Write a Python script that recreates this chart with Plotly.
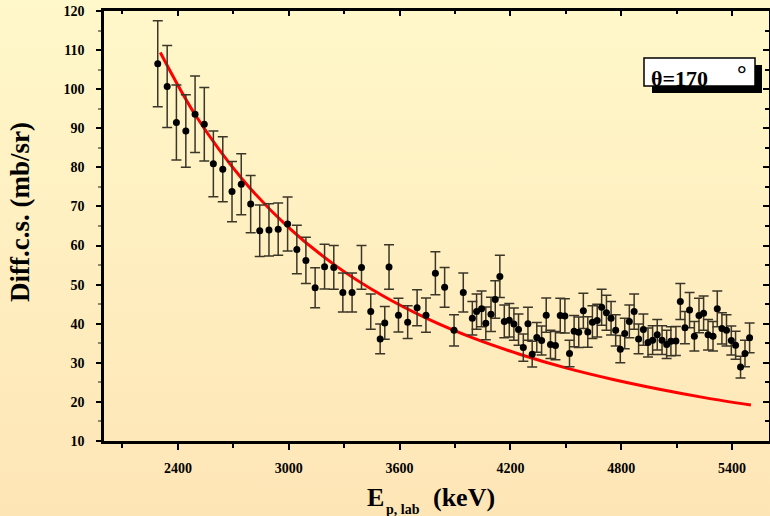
import base64
import plotly.graph_objects as go

# Measured differential cross sections, theta = 170 deg
energy_kev = [
    2291, 2342, 2392, 2443, 2493, 2543, 2592, 2643, 2693, 2743,
    2794, 2843, 2893, 2943, 2994, 3044, 3093, 3143, 3194, 3244,
    3293, 3343, 3394, 3444, 3495, 3520, 3543, 3594, 3644, 3695,
    3743, 3794, 3844, 3895, 3945, 3994, 4017, 4044, 4067, 4095,
    4118, 4143, 4167, 4194, 4219, 4244, 4270, 4295, 4318, 4343,
    4369, 4394, 4417, 4444, 4470, 4495, 4520, 4545, 4570, 4595,
    4619, 4644, 4670, 4694, 4720, 4745, 4770, 4795, 4819, 4844,
    4870, 4894, 4920, 4945, 4970, 4995, 5021, 5046, 5069, 5096,
    5120, 5145, 5170, 5196, 5221, 5246, 5270, 5297, 5320, 5345,
    5370, 5396, 5419, 5446, 5470, 5495,
]
cross_section = [
    106.5, 100.7, 91.5, 89.3, 93.6, 91.0, 80.9, 79.5, 73.8, 75.7,
    70.6, 63.8, 64.0, 64.2, 65.5, 59.0, 56.2, 49.2, 54.6, 54.4,
    48.0, 48.0, 54.4, 43.1, 36.1, 40.2, 54.5, 42.2, 40.4, 44.1,
    42.2, 52.9, 49.3, 38.3, 48.0, 41.4, 43.1, 43.8, 40.1, 42.4,
    46.2, 52.1, 40.6, 40.9, 39.9, 38.5, 33.9, 40.0, 32.2, 36.5,
    35.7, 42.2, 34.7, 34.4, 42.1, 42.0, 32.4, 38.1, 37.8, 43.3,
    37.9, 40.4, 40.8, 44.2, 42.8, 41.4, 38.3, 33.5, 37.5, 40.6,
    43.1, 36.1, 38.5, 35.2, 35.8, 37.2, 35.8, 34.7, 35.5, 35.6,
    45.7, 39.0, 43.5, 36.8, 42.1, 42.7, 37.2, 36.8, 43.8, 38.8,
    38.3, 35.7, 34.5, 28.9, 32.4, 36.4,
]
cross_section_err = [
    11.0, 10.5, 9.6, 9.3, 9.8, 9.4, 8.4, 8.3, 7.7, 7.8,
    7.3, 6.6, 6.7, 6.7, 6.9, 6.2, 5.9, 5.1, 5.7, 5.6,
    5.0, 5.0, 5.6, 4.5, 3.8, 4.2, 5.7, 4.3, 4.2, 4.6,
    4.4, 5.5, 5.1, 4.0, 5.0, 4.3, 4.5, 4.6, 4.2, 4.4,
    4.8, 5.4, 4.2, 4.3, 4.1, 4.0, 3.5, 4.2, 3.3, 3.8,
    3.7, 4.4, 3.6, 3.6, 4.4, 4.4, 3.4, 4.0, 3.9, 4.5,
    3.9, 4.2, 4.2, 4.6, 4.5, 4.3, 4.0, 3.5, 3.9, 4.2,
    4.5, 3.8, 4.0, 3.7, 3.7, 3.9, 3.7, 3.6, 3.7, 3.7,
    4.6, 4.1, 4.5, 3.8, 4.4, 4.4, 3.9, 3.8, 4.6, 4.0,
    4.0, 3.7, 3.6, 2.8, 3.4, 3.8,
]

# Rutherford curve samples
ruth_energy = [2305, 2500, 2750, 3000, 3250, 3500, 3750, 4000,
               4250, 4500, 4750, 5000, 5250, 5502]
ruth_xs = [109.4, 93.0, 76.9, 64.6, 55.0, 47.4, 41.3, 36.3,
           32.2, 28.7, 25.8, 23.3, 21.1, 19.2]

x_ticks = [2400, 3000, 3600, 4200, 4800, 5400]
y_ticks = [10, 20, 30, 40, 50, 60, 70, 80, 90, 100, 110, 120]

W, H = 770, 516
ML, MR, MT, MB = 104, 1, 11, 75
PW, PH = W - ML - MR, H - MT - MB
FONT = "Liberation Serif"


def px(x):
    return (x - ML) / PW


def py(y):
    return (H - MB - y) / PH


bg_svg = (
    '<svg xmlns="http://www.w3.org/2000/svg" width="770" height="516">'
    '<defs><linearGradient id="g" x1="0" y1="0" x2="0" y2="1">'
    '<stop offset="0" stop-color="#FFF8CA"/>'
    '<stop offset="1" stop-color="#FEE5B6"/>'
    '</linearGradient></defs>'
    '<rect width="770" height="516" fill="url(#g)"/></svg>'
)
bg_src = "data:image/svg+xml;base64," + base64.b64encode(bg_svg.encode()).decode()

fig = go.Figure()

fig.add_trace(go.Scatter(
    x=ruth_energy, y=ruth_xs, mode="lines", line_shape="spline",
    line=dict(color="#FF0000", width=3), hoverinfo="skip",
))
fig.add_trace(go.Scatter(
    x=energy_kev, y=cross_section, mode="markers",
    marker=dict(color="black", size=7),
    error_y=dict(type="data", array=cross_section_err, visible=True,
                 color="#3b3628", thickness=1.5, width=5),
))
# invisible trace that activates the mirrored top/right axes
fig.add_trace(go.Scatter(x=[2000], y=[10], xaxis="x2", yaxis="y2",
                         mode="markers", marker=dict(opacity=0),
                         hoverinfo="skip"))

tick_font = dict(family=FONT, size=14, color="black", weight="bold")

fig.update_layout(
    width=W, height=H,
    margin=dict(l=ML, r=MR, t=MT, b=MB),
    paper_bgcolor="#FEEFC2",
    plot_bgcolor="rgba(0,0,0,0)",
    showlegend=False,
    images=[dict(source=bg_src, xref="paper", yref="paper",
                 x=px(0), y=py(0), sizex=W / PW, sizey=H / PH,
                 xanchor="left", yanchor="top", sizing="stretch",
                 layer="below")],
    xaxis=dict(range=[2000, 5600], tickvals=x_ticks,
               ticktext=[str(v) for v in x_ticks],
               ticks="outside", ticklen=6, tickwidth=2, tickcolor="black",
               minor=dict(tickvals=[2100, 2700, 3300, 3900, 4500, 5100],
                          ticks="outside", ticklen=4, tickwidth=2,
                          tickcolor="black"),
               showline=True, linecolor="black", linewidth=2.5,
               showgrid=False, zeroline=False, tickfont=tick_font,
               ticklabelstandoff=6),
    yaxis=dict(range=[10, 120], tickvals=y_ticks,
               ticks="outside", ticklen=5, tickwidth=2, tickcolor="black",
               minor=dict(dtick=5, ticks="outside", ticklen=3, tickwidth=1.5,
                          tickcolor="#8a8470"),
               showline=True, linecolor="black", linewidth=2.5,
               showgrid=False, zeroline=False, tickfont=tick_font,
               ticklabelstandoff=9),
    xaxis2=dict(range=[2000, 5600], overlaying="x", side="top",
                tickvals=x_ticks, ticks="inside", ticklen=5, tickwidth=2,
                tickcolor="black", showticklabels=False,
                minor=dict(tickvals=[2100, 2700, 3300, 3900, 4500, 5100],
                           ticks="inside", ticklen=3, tickwidth=2,
                           tickcolor="black"),
                showline=True, linecolor="black", linewidth=2.5,
                showgrid=False, zeroline=False),
    yaxis2=dict(range=[10, 120], overlaying="y", side="right",
                tickvals=y_ticks, ticks="inside", ticklen=6, tickwidth=2,
                tickcolor="black", showticklabels=False,
                minor=dict(dtick=5, ticks="inside", ticklen=4, tickwidth=1.5,
                           tickcolor="black"),
                showline=True, linecolor="black", linewidth=2.5,
                showgrid=False, zeroline=False),
    shapes=[
        dict(type="rect", xref="paper", yref="paper",
             x0=px(652), x1=px(762), y0=py(65), y1=py(93),
             fillcolor="black", line=dict(width=0)),
        dict(type="rect", xref="paper", yref="paper",
             x0=px(644), x1=px(755), y0=py(58), y1=py(86),
             fillcolor="white", line=dict(color="black", width=1.5)),
    ],
)

ann_font_big = dict(family=FONT, size=26, color="black", weight="bold")
annotations = [
    dict(text="Diff.c.s. (mb/sr)", textangle=-90, x=px(20), y=py(212),
         font=dict(family=FONT, size=27, color="black", weight="bold")),
    dict(text="E", x=px(375), y=py(497), font=ann_font_big),
    dict(text="p, lab", x=px(403), y=py(509),
         font=dict(family=FONT, size=14, color="black", weight="bold")),
    dict(text="(keV)", x=px(464), y=py(497), font=ann_font_big),
    dict(text="θ=170", x=px(679), y=py(78),
         font=dict(family=FONT, size=22, color="black", weight="bold")),
    dict(text="°", x=px(742), y=py(74),
         font=dict(family=FONT, size=24, color="black", weight="bold")),
]
for a in annotations:
    a.update(xref="paper", yref="paper", showarrow=False,
             xanchor="center", yanchor="middle")
fig.update_layout(annotations=annotations)

fig.write_html("out.html")
